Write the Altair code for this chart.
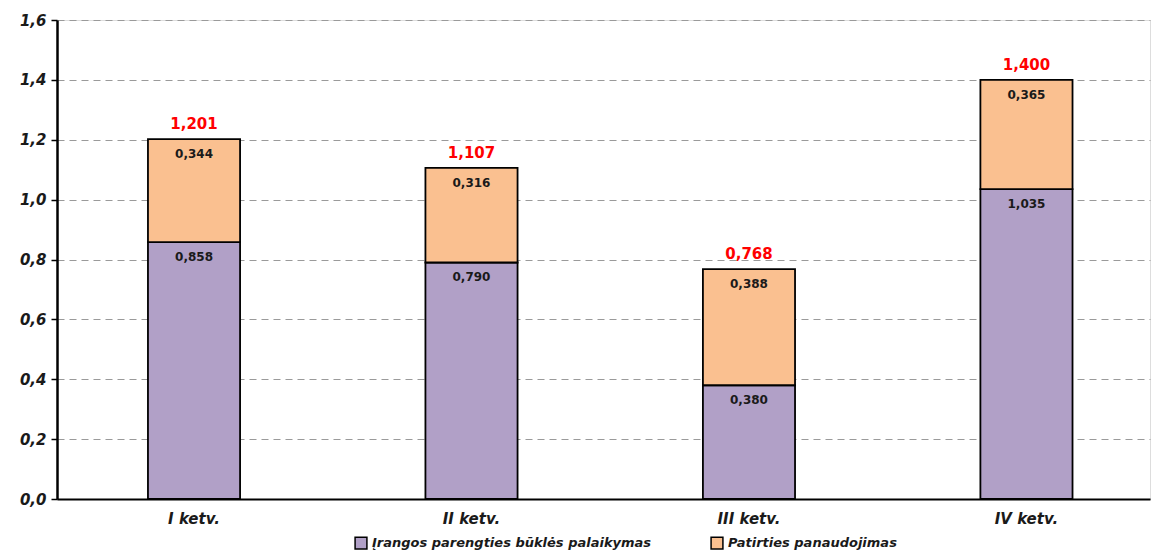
import altair as alt
import pandas as pd

quarters = ["I ketv.", "II ketv.", "III ketv.", "IV ketv."]
series_names = ["Įrangos parengties būklės palaikymas", "Patirties panaudojimas"]
bottom_vals = [0.858, 0.790, 0.380, 1.035]
top_vals = [0.344, 0.316, 0.388, 0.365]
totals = [1.201, 1.107, 0.768, 1.400]
colors = ["#B1A0C7", "#FAC090"]

def fmt(v):
    return f"{v:.3f}".replace(".", ",")

rows = []
for q, b, t, tot in zip(quarters, bottom_vals, top_vals, totals):
    rows.append({"q": q, "s": series_names[0], "v": b, "o": 0, "ytop": b, "lab": fmt(b)})
    rows.append({"q": q, "s": series_names[1], "v": t, "o": 1, "ytop": tot, "lab": fmt(t)})
df = pd.DataFrame(rows)
tot_df = pd.DataFrame({"q": quarters, "tot": totals, "lab": [fmt(v) for v in totals]})

FONT = "DejaVu Sans"
xscale = alt.Scale(domain=quarters, paddingInner=0.668, paddingOuter=0.3035, align=0.54)
xenc = alt.X("q:N", scale=xscale, sort=quarters, title=None,
             axis=alt.Axis(labelAngle=0, labelFont=FONT, labelFontSize=15, labelFontWeight="bold",
                           labelFontStyle="italic", labelColor="#1a1a1a", labelPadding=12,
                           domainColor="black", domainWidth=2, ticks=False, grid=False))

bars = alt.Chart(df).mark_bar(stroke="black", strokeWidth=1.8).encode(
    x=xenc,
    y=alt.Y("v:Q", stack="zero", title=None,
            scale=alt.Scale(domain=[0, 1.6], nice=False),
            axis=alt.Axis(values=[0, 0.2, 0.4, 0.6, 0.8, 1.0, 1.2, 1.4, 1.6],
                          labelExpr="replace(format(datum.value, '.1f'), '.', ',')",
                          labelFont=FONT, labelFontSize=15, labelFontWeight="bold",
                          labelFontStyle="italic", labelColor="#1a1a1a", labelPadding=5,
                          domainColor="black", domainWidth=2.5, tickColor="black", tickSize=6,
                          tickWidth=1.5, grid=True, gridColor="#9a9a9a", gridDash=[7, 5],
                          gridWidth=1.2)),
    color=alt.Color("s:N", scale=alt.Scale(domain=series_names, range=colors), title=None,
                    legend=alt.Legend(orient="none", legendX=297, legendY=516, direction="horizontal",
                                      symbolType="square", symbolStrokeColor="black",
                                      symbolStrokeWidth=1.5, symbolSize=140,
                                      labelFont=FONT, labelFontSize=13, labelFontWeight="bold",
                                      labelFontStyle="italic", labelColor="#1a1a1a",
                                      columnPadding=56, labelLimit=400)),
    order=alt.Order("o:Q"),
)

seg_labels = alt.Chart(df).mark_text(font=FONT, fontSize=12, fontWeight="bold", color="#1a1a1a",
                                     baseline="middle", dy=15).encode(
    x=alt.X("q:N", scale=xscale, sort=quarters),
    y=alt.Y("ytop:Q"),
    text="lab:N",
)

tot_labels = alt.Chart(tot_df).mark_text(font=FONT, fontSize=15, fontWeight="bold", color="#FF0000",
                                         baseline="middle", dy=-15).encode(
    x=alt.X("q:N", scale=xscale, sort=quarters),
    y=alt.Y("tot:Q"),
    text="lab:N",
)

chart = alt.layer(bars, seg_labels, tot_labels).properties(
    width=1093, height=479,
    padding={"left": 57, "top": 20, "right": 4, "bottom": 53},
    autosize=alt.AutoSizeParams(type="none"),
).configure_view(stroke=None).configure(background="white")

chart.save("out.html", embed_options={"renderer": "svg", "actions": False})
